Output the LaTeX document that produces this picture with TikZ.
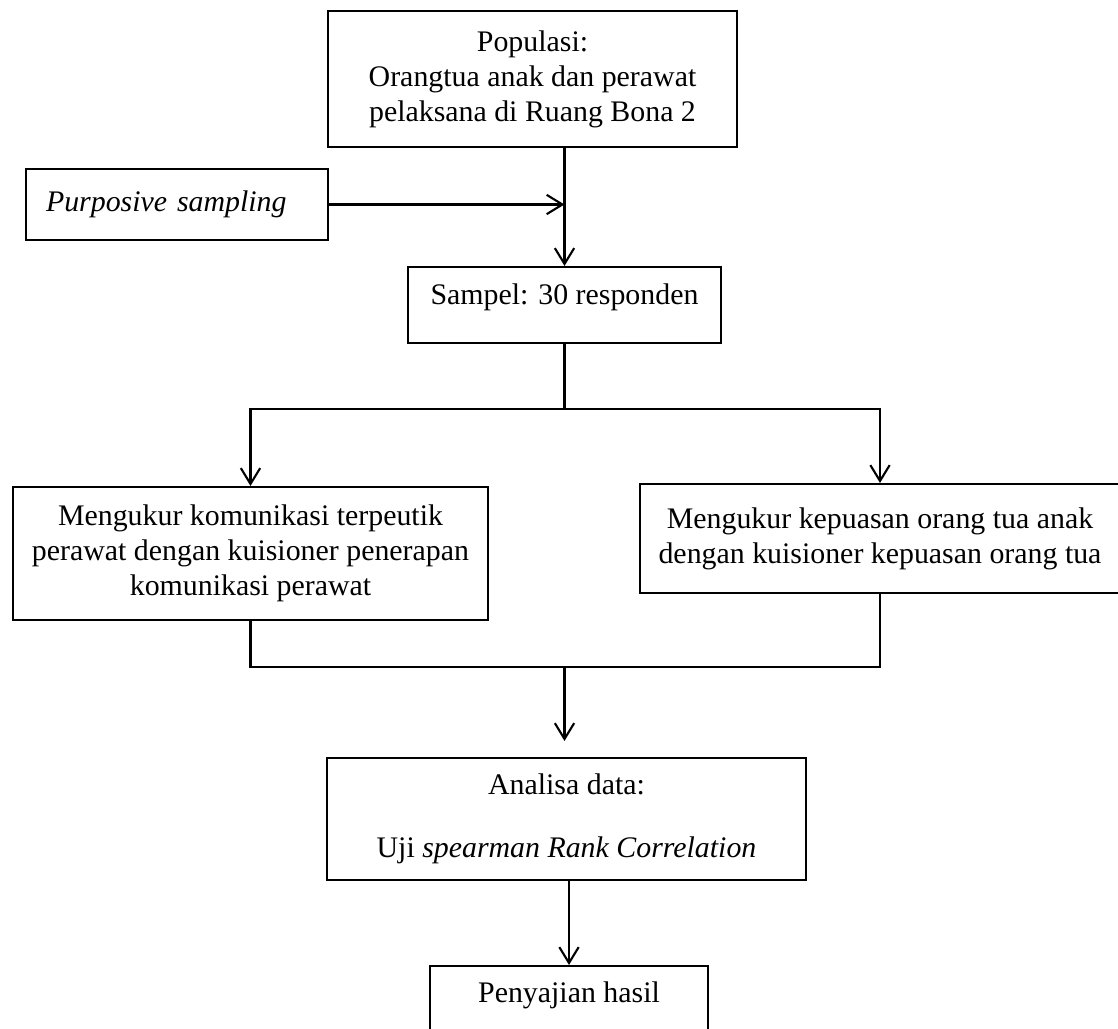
\documentclass[tikz,border=0pt]{standalone}
\usepackage{fontspec}
\setmainfont{Liberation Serif}
\usetikzlibrary{arrows.meta}

\begin{document}
\begin{tikzpicture}[x=0.02cm,y=-0.02cm,
    font=\fontsize{17}{20}\selectfont,
    kotak/.style={draw,line width=1.2pt,align=center,inner sep=0pt},
    garis/.style={line width=1.2pt},
    panah/.style={garis,-{Straight Barb[length=9pt,width=11pt,line width=1.2pt]}}]

    \useasboundingbox (0,0) rectangle (1118,1028);

    % 1. populasi dan sampel
    \node[kotak,minimum width=8.18cm,minimum height=2.72cm] (pop) at (532.5,79)
        {Populasi:\\Orangtua anak dan perawat\\pelaksana di Ruang Bona 2};
    \node[kotak,minimum width=6.04cm,minimum height=1.42cm,inner xsep=0.4cm,
        text width=5.24cm,align=left] (ps) at (177,204.5) {\textit{Purposive sampling}};
    \node[kotak,minimum width=6.26cm,minimum height=1.52cm,text depth=12pt] (smp) at (564.5,305)
        {Sampel: 30 responden};

    \draw[panah] (pop.south -| smp.north) -- (smp.north);
    \draw[panah] (ps.east) -- (ps.east -| smp.north);

    % 2. pengukuran
    \node[kotak,minimum width=9.5cm,minimum height=2.66cm] (kom) at (250.5,553.5)
        {Mengukur komunikasi terpeutik\\perawat dengan kuisioner penerapan\\komunikasi perawat};
    \node[kotak,minimum width=9.6cm,minimum height=2.18cm] (kep) at (880,538.5)
        {Mengukur kepuasan orang tua anak\\dengan kuisioner kepuasan orang tua};

    \coordinate (cabang) at (564.5,409);
    \draw[garis] (smp.south) -- (cabang);
    \draw[panah] (cabang) -| (kom.north);
    \draw[panah] (cabang) -| (kep.north);

    % 3. analisa dan hasil
    \node[kotak,minimum width=9.58cm,minimum height=2.44cm] (ana) at (566.5,819)
        {Analisa data:\\[16pt]Uji \textit{spearman Rank Correlation}};
    \node[kotak,minimum width=5.56cm,minimum height=1.4cm,text depth=10pt] (hsl) at (569,1001)
        {Penyajian hasil};

    \coordinate (gabung) at (564.5,667);
    \draw[garis] (kom.south) -- (kom.south |- gabung) -- (kep.south |- gabung) -- (kep.south);
    \draw[panah,shorten >=0.32cm] (gabung) -- (gabung |- ana.north);
    \draw[panah] (ana.south -| hsl.north) -- (hsl.north);

\end{tikzpicture}
\end{document}
